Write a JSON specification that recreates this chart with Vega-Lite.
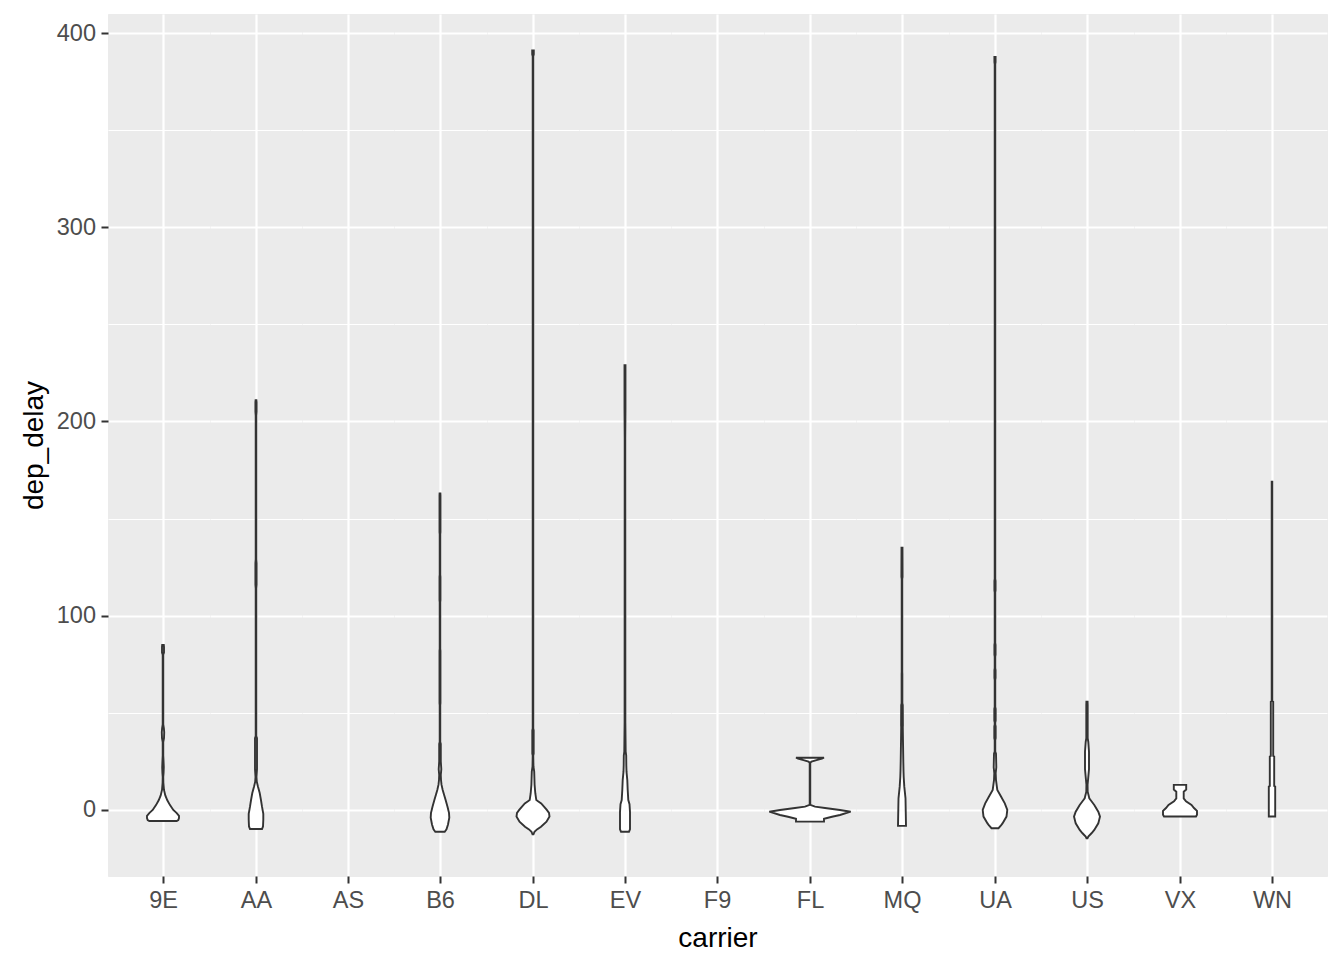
{
  "$schema": "https://vega.github.io/schema/vega-lite/v6.json",
  "background": "white",
  "padding": {"left": 19, "top": 13, "right": 15, "bottom": 10},
  "spacing": 0,
  "bounds": "flush",
  "data": {"values": [
    {"carrier":"9E","dep_delay":-5.7,"lo":-13.7,"hi":13.7},{"carrier":"9E","dep_delay":-5.2,"lo":-15.3,"hi":15.3},{"carrier":"9E","dep_delay":-4.2,"lo":-16,"hi":16},{"carrier":"9E","dep_delay":-3,"lo":-16,"hi":16},{"carrier":"9E","dep_delay":-1.5,"lo":-13.5,"hi":13.5},{"carrier":"9E","dep_delay":0,"lo":-10.3,"hi":10.3},{"carrier":"9E","dep_delay":2.5,"lo":-7,"hi":7},{"carrier":"9E","dep_delay":5,"lo":-4.3,"hi":4.3},{"carrier":"9E","dep_delay":7.5,"lo":-2.3,"hi":2.3},{"carrier":"9E","dep_delay":10.3,"lo":-1,"hi":1},{"carrier":"9E","dep_delay":14,"lo":-0.4,"hi":0.4},{"carrier":"9E","dep_delay":17,"lo":-0.3,"hi":0.3},{"carrier":"9E","dep_delay":19,"lo":-0.6,"hi":0.6},{"carrier":"9E","dep_delay":22,"lo":-0.8,"hi":0.8},{"carrier":"9E","dep_delay":26,"lo":-0.5,"hi":0.5},{"carrier":"9E","dep_delay":28,"lo":-0.3,"hi":0.3},{"carrier":"9E","dep_delay":35,"lo":-0.3,"hi":0.3},{"carrier":"9E","dep_delay":37,"lo":-1,"hi":1},{"carrier":"9E","dep_delay":40,"lo":-1.2,"hi":1.2},{"carrier":"9E","dep_delay":42,"lo":-0.9,"hi":0.9},{"carrier":"9E","dep_delay":44,"lo":-0.3,"hi":0.3},{"carrier":"9E","dep_delay":80,"lo":-0.3,"hi":0.3},{"carrier":"9E","dep_delay":81,"lo":-1,"hi":1},{"carrier":"9E","dep_delay":84,"lo":-1,"hi":1},{"carrier":"9E","dep_delay":85,"lo":-0.8,"hi":0.8},
    {"carrier":"AA","dep_delay":-9.8,"lo":-6,"hi":6},{"carrier":"AA","dep_delay":-8.5,"lo":-7,"hi":7},{"carrier":"AA","dep_delay":-5,"lo":-7.3,"hi":7.3},{"carrier":"AA","dep_delay":-2,"lo":-7.3,"hi":7.3},{"carrier":"AA","dep_delay":1.7,"lo":-6,"hi":6},{"carrier":"AA","dep_delay":5,"lo":-5,"hi":5},{"carrier":"AA","dep_delay":8.7,"lo":-3.7,"hi":3.7},{"carrier":"AA","dep_delay":12,"lo":-2,"hi":2},{"carrier":"AA","dep_delay":14.6,"lo":-0.8,"hi":0.8},{"carrier":"AA","dep_delay":17,"lo":-0.5,"hi":0.5},{"carrier":"AA","dep_delay":21,"lo":-1,"hi":1},{"carrier":"AA","dep_delay":37,"lo":-1,"hi":1},{"carrier":"AA","dep_delay":38,"lo":-0.3,"hi":0.3},{"carrier":"AA","dep_delay":114,"lo":-0.3,"hi":0.3},{"carrier":"AA","dep_delay":116,"lo":-0.6,"hi":0.6},{"carrier":"AA","dep_delay":127,"lo":-0.6,"hi":0.6},{"carrier":"AA","dep_delay":129,"lo":-0.3,"hi":0.3},{"carrier":"AA","dep_delay":203,"lo":-0.3,"hi":0.3},{"carrier":"AA","dep_delay":205,"lo":-0.6,"hi":0.6},{"carrier":"AA","dep_delay":210,"lo":-0.6,"hi":0.6},{"carrier":"AA","dep_delay":211,"lo":-0.4,"hi":0.4},
    {"carrier":"B6","dep_delay":-11.2,"lo":-4.7,"hi":4.7},{"carrier":"B6","dep_delay":-10,"lo":-6.5,"hi":6.5},{"carrier":"B6","dep_delay":-7.5,"lo":-8,"hi":8},{"carrier":"B6","dep_delay":-4,"lo":-9.3,"hi":9.3},{"carrier":"B6","dep_delay":-1.5,"lo":-9,"hi":9},{"carrier":"B6","dep_delay":1.7,"lo":-7.5,"hi":7.5},{"carrier":"B6","dep_delay":5,"lo":-5.7,"hi":5.7},{"carrier":"B6","dep_delay":8,"lo":-4,"hi":4},{"carrier":"B6","dep_delay":10.3,"lo":-2.7,"hi":2.7},{"carrier":"B6","dep_delay":13,"lo":-1.5,"hi":1.5},{"carrier":"B6","dep_delay":15.4,"lo":-1,"hi":1},{"carrier":"B6","dep_delay":18,"lo":-0.8,"hi":0.8},{"carrier":"B6","dep_delay":21,"lo":-1.3,"hi":1.3},{"carrier":"B6","dep_delay":25,"lo":-0.8,"hi":0.8},{"carrier":"B6","dep_delay":34,"lo":-0.8,"hi":0.8},{"carrier":"B6","dep_delay":35,"lo":-0.3,"hi":0.3},{"carrier":"B6","dep_delay":54,"lo":-0.3,"hi":0.3},{"carrier":"B6","dep_delay":55,"lo":-0.5,"hi":0.5},{"carrier":"B6","dep_delay":82,"lo":-0.5,"hi":0.5},{"carrier":"B6","dep_delay":83,"lo":-0.3,"hi":0.3},{"carrier":"B6","dep_delay":107,"lo":-0.3,"hi":0.3},{"carrier":"B6","dep_delay":108,"lo":-0.5,"hi":0.5},{"carrier":"B6","dep_delay":120,"lo":-0.5,"hi":0.5},{"carrier":"B6","dep_delay":121,"lo":-0.3,"hi":0.3},{"carrier":"B6","dep_delay":142,"lo":-0.3,"hi":0.3},{"carrier":"B6","dep_delay":143,"lo":-0.5,"hi":0.5},{"carrier":"B6","dep_delay":162,"lo":-0.5,"hi":0.5},{"carrier":"B6","dep_delay":163,"lo":-0.4,"hi":0.4},
    {"carrier":"DL","dep_delay":-12.5,"lo":-0.5,"hi":0.5},{"carrier":"DL","dep_delay":-11.2,"lo":-1.5,"hi":1.5},{"carrier":"DL","dep_delay":-10,"lo":-4,"hi":4},{"carrier":"DL","dep_delay":-8.6,"lo":-8,"hi":8},{"carrier":"DL","dep_delay":-6,"lo":-13.5,"hi":13.5},{"carrier":"DL","dep_delay":-3.4,"lo":-16.5,"hi":16.5},{"carrier":"DL","dep_delay":-1.5,"lo":-16,"hi":16},{"carrier":"DL","dep_delay":0,"lo":-13.8,"hi":13.8},{"carrier":"DL","dep_delay":1.7,"lo":-11,"hi":11},{"carrier":"DL","dep_delay":3.4,"lo":-8.2,"hi":8.2},{"carrier":"DL","dep_delay":4.5,"lo":-5,"hi":5},{"carrier":"DL","dep_delay":5.1,"lo":-3.3,"hi":3.3},{"carrier":"DL","dep_delay":8.6,"lo":-2.3,"hi":2.3},{"carrier":"DL","dep_delay":13,"lo":-1.6,"hi":1.6},{"carrier":"DL","dep_delay":19.7,"lo":-1.2,"hi":1.2},{"carrier":"DL","dep_delay":22.3,"lo":-0.5,"hi":0.5},{"carrier":"DL","dep_delay":28,"lo":-0.3,"hi":0.3},{"carrier":"DL","dep_delay":29,"lo":-0.7,"hi":0.7},{"carrier":"DL","dep_delay":41,"lo":-0.7,"hi":0.7},{"carrier":"DL","dep_delay":42,"lo":-0.3,"hi":0.3},{"carrier":"DL","dep_delay":388,"lo":-0.3,"hi":0.3},{"carrier":"DL","dep_delay":389,"lo":-0.8,"hi":0.8},{"carrier":"DL","dep_delay":391,"lo":-0.8,"hi":0.8},
    {"carrier":"EV","dep_delay":-11.2,"lo":-4,"hi":4},{"carrier":"EV","dep_delay":-10,"lo":-5,"hi":5},{"carrier":"EV","dep_delay":-7,"lo":-5,"hi":5},{"carrier":"EV","dep_delay":-1,"lo":-5,"hi":5},{"carrier":"EV","dep_delay":3,"lo":-4.5,"hi":4.5},{"carrier":"EV","dep_delay":5.1,"lo":-3.3,"hi":3.3},{"carrier":"EV","dep_delay":10.3,"lo":-2.7,"hi":2.7},{"carrier":"EV","dep_delay":15.4,"lo":-2.3,"hi":2.3},{"carrier":"EV","dep_delay":19.7,"lo":-1.5,"hi":1.5},{"carrier":"EV","dep_delay":23,"lo":-1.3,"hi":1.3},{"carrier":"EV","dep_delay":28,"lo":-1.2,"hi":1.2},{"carrier":"EV","dep_delay":30,"lo":-0.7,"hi":0.7},{"carrier":"EV","dep_delay":45,"lo":-0.4,"hi":0.4},{"carrier":"EV","dep_delay":191,"lo":-0.3,"hi":0.3},{"carrier":"EV","dep_delay":207,"lo":-0.5,"hi":0.5},{"carrier":"EV","dep_delay":229,"lo":-0.5,"hi":0.5},
    {"carrier":"FL","dep_delay":-6,"lo":-14,"hi":14},{"carrier":"FL","dep_delay":-4.5,"lo":-14,"hi":14},{"carrier":"FL","dep_delay":-3.5,"lo":-22,"hi":22},{"carrier":"FL","dep_delay":-2.6,"lo":-30,"hi":30},{"carrier":"FL","dep_delay":-0.9,"lo":-40.7,"hi":40.7},{"carrier":"FL","dep_delay":0,"lo":-30,"hi":30},{"carrier":"FL","dep_delay":1,"lo":-15,"hi":15},{"carrier":"FL","dep_delay":1.7,"lo":-5,"hi":5},{"carrier":"FL","dep_delay":2.6,"lo":-0.3,"hi":0.3},{"carrier":"FL","dep_delay":24.3,"lo":-0.3,"hi":0.3},{"carrier":"FL","dep_delay":24.9,"lo":-1.5,"hi":1.5},{"carrier":"FL","dep_delay":25.7,"lo":-6.5,"hi":6.5},{"carrier":"FL","dep_delay":26.5,"lo":-12,"hi":12},{"carrier":"FL","dep_delay":26.9,"lo":-14,"hi":14},
    {"carrier":"MQ","dep_delay":-8.2,"lo":-4,"hi":4},{"carrier":"MQ","dep_delay":6,"lo":-3.5,"hi":3.5},{"carrier":"MQ","dep_delay":12,"lo":-2.3,"hi":2.3},{"carrier":"MQ","dep_delay":17,"lo":-1.7,"hi":1.7},{"carrier":"MQ","dep_delay":20,"lo":-1.5,"hi":1.5},{"carrier":"MQ","dep_delay":25,"lo":-1.3,"hi":1.3},{"carrier":"MQ","dep_delay":35,"lo":-1,"hi":1},{"carrier":"MQ","dep_delay":42.7,"lo":-0.8,"hi":0.8},{"carrier":"MQ","dep_delay":43.5,"lo":-0.9,"hi":0.9},{"carrier":"MQ","dep_delay":54,"lo":-0.8,"hi":0.8},{"carrier":"MQ","dep_delay":55,"lo":-0.4,"hi":0.4},{"carrier":"MQ","dep_delay":70,"lo":-0.4,"hi":0.4},{"carrier":"MQ","dep_delay":71,"lo":-0.3,"hi":0.3},{"carrier":"MQ","dep_delay":119,"lo":-0.3,"hi":0.3},{"carrier":"MQ","dep_delay":120,"lo":-0.6,"hi":0.6},{"carrier":"MQ","dep_delay":135,"lo":-0.5,"hi":0.5},
    {"carrier":"UA","dep_delay":-9.4,"lo":-3.5,"hi":3.5},{"carrier":"UA","dep_delay":-8,"lo":-6,"hi":6},{"carrier":"UA","dep_delay":-6.9,"lo":-7.5,"hi":7.5},{"carrier":"UA","dep_delay":-3.4,"lo":-11.5,"hi":11.5},{"carrier":"UA","dep_delay":0,"lo":-12.3,"hi":12.3},{"carrier":"UA","dep_delay":3.4,"lo":-9.8,"hi":9.8},{"carrier":"UA","dep_delay":6.9,"lo":-6,"hi":6},{"carrier":"UA","dep_delay":10.3,"lo":-2.3,"hi":2.3},{"carrier":"UA","dep_delay":15.4,"lo":-1,"hi":1},{"carrier":"UA","dep_delay":19,"lo":-0.7,"hi":0.7},{"carrier":"UA","dep_delay":22,"lo":-1.3,"hi":1.3},{"carrier":"UA","dep_delay":29,"lo":-1,"hi":1},{"carrier":"UA","dep_delay":30,"lo":-0.3,"hi":0.3},{"carrier":"UA","dep_delay":36,"lo":-0.3,"hi":0.3},{"carrier":"UA","dep_delay":37,"lo":-0.7,"hi":0.7},{"carrier":"UA","dep_delay":43,"lo":-0.7,"hi":0.7},{"carrier":"UA","dep_delay":44,"lo":-0.3,"hi":0.3},{"carrier":"UA","dep_delay":45,"lo":-0.3,"hi":0.3},{"carrier":"UA","dep_delay":46,"lo":-0.7,"hi":0.7},{"carrier":"UA","dep_delay":52,"lo":-0.7,"hi":0.7},{"carrier":"UA","dep_delay":53,"lo":-0.3,"hi":0.3},{"carrier":"UA","dep_delay":67,"lo":-0.3,"hi":0.3},{"carrier":"UA","dep_delay":68,"lo":-0.6,"hi":0.6},{"carrier":"UA","dep_delay":72,"lo":-0.6,"hi":0.6},{"carrier":"UA","dep_delay":73,"lo":-0.3,"hi":0.3},{"carrier":"UA","dep_delay":79,"lo":-0.3,"hi":0.3},{"carrier":"UA","dep_delay":80,"lo":-0.6,"hi":0.6},{"carrier":"UA","dep_delay":85,"lo":-0.6,"hi":0.6},{"carrier":"UA","dep_delay":86,"lo":-0.3,"hi":0.3},{"carrier":"UA","dep_delay":112,"lo":-0.3,"hi":0.3},{"carrier":"UA","dep_delay":113,"lo":-0.6,"hi":0.6},{"carrier":"UA","dep_delay":118,"lo":-0.6,"hi":0.6},{"carrier":"UA","dep_delay":119,"lo":-0.3,"hi":0.3},{"carrier":"UA","dep_delay":384,"lo":-0.3,"hi":0.3},{"carrier":"UA","dep_delay":385,"lo":-0.6,"hi":0.6},{"carrier":"UA","dep_delay":387.7,"lo":-0.6,"hi":0.6},
    {"carrier":"US","dep_delay":-14.6,"lo":-0.5,"hi":0.5},{"carrier":"US","dep_delay":-13.7,"lo":-1.3,"hi":1.3},{"carrier":"US","dep_delay":-12,"lo":-4.5,"hi":4.5},{"carrier":"US","dep_delay":-10.3,"lo":-7.3,"hi":7.3},{"carrier":"US","dep_delay":-6.9,"lo":-11.3,"hi":11.3},{"carrier":"US","dep_delay":-3.4,"lo":-13,"hi":13},{"carrier":"US","dep_delay":-0.9,"lo":-11.3,"hi":11.3},{"carrier":"US","dep_delay":2.6,"lo":-7.3,"hi":7.3},{"carrier":"US","dep_delay":4.5,"lo":-4.5,"hi":4.5},{"carrier":"US","dep_delay":6,"lo":-2.3,"hi":2.3},{"carrier":"US","dep_delay":9.4,"lo":-0.7,"hi":0.7},{"carrier":"US","dep_delay":13,"lo":-0.6,"hi":0.6},{"carrier":"US","dep_delay":17,"lo":-1.3,"hi":1.3},{"carrier":"US","dep_delay":21,"lo":-2,"hi":2},{"carrier":"US","dep_delay":30,"lo":-2,"hi":2},{"carrier":"US","dep_delay":35,"lo":-1.3,"hi":1.3},{"carrier":"US","dep_delay":37,"lo":-0.7,"hi":0.7},{"carrier":"US","dep_delay":54,"lo":-0.7,"hi":0.7},{"carrier":"US","dep_delay":55.7,"lo":-0.6,"hi":0.6},
    {"carrier":"VX","dep_delay":-3.4,"lo":-16,"hi":16},{"carrier":"VX","dep_delay":-2.5,"lo":-17,"hi":17},{"carrier":"VX","dep_delay":-0.5,"lo":-17,"hi":17},{"carrier":"VX","dep_delay":1,"lo":-14,"hi":14},{"carrier":"VX","dep_delay":2.6,"lo":-11.5,"hi":11.5},{"carrier":"VX","dep_delay":4.5,"lo":-6,"hi":6},{"carrier":"VX","dep_delay":6,"lo":-3.7,"hi":3.7},{"carrier":"VX","dep_delay":9.4,"lo":-3.7,"hi":3.7},{"carrier":"VX","dep_delay":10.5,"lo":-6.2,"hi":6.2},{"carrier":"VX","dep_delay":12.9,"lo":-6.2,"hi":6.2},
    {"carrier":"WN","dep_delay":-3.4,"lo":-3.2,"hi":3.2},{"carrier":"WN","dep_delay":12,"lo":-3.2,"hi":3.2},{"carrier":"WN","dep_delay":12.3,"lo":-2.2,"hi":2.2},{"carrier":"WN","dep_delay":27.5,"lo":-2.2,"hi":2.2},{"carrier":"WN","dep_delay":27.8,"lo":-1.2,"hi":1.2},{"carrier":"WN","dep_delay":55.7,"lo":-1.2,"hi":1.2},{"carrier":"WN","dep_delay":56,"lo":-0.3,"hi":0.3},{"carrier":"WN","dep_delay":169,"lo":-0.3,"hi":0.3}
  ]},
  "hconcat": [
    {"width": 102, "height": 862, "transform": [{"filter": "datum.carrier === '9E'"}],
     "mark": {"type": "area", "orient": "horizontal", "fill": "white", "stroke": "#333333", "strokeWidth": 1.9},
     "encoding": {
       "y": {"field": "dep_delay", "type": "quantitative", "scale": {"domain": [-34, 409.8], "nice": false, "zero": false},
             "axis": {"values": [0,50,100,150,200,250,300,350,400], "title": "dep_delay", "titlePadding": 8,
                      "labelExpr": "datum.value % 100 === 0 ? datum.label : ''",
                      "tickOpacity": {"condition": {"test": "datum.value % 100 !== 0", "value": 0}, "value": 1},
                      "gridWidth": {"condition": {"test": "datum.value % 100 !== 0", "value": 1.1}, "value": 2.2}}},
       "x": {"field": "lo", "type": "quantitative", "scale": {"domain": [-55, 47], "nice": false, "zero": false},
             "axis": {"values": [0], "labelExpr": "'9E'", "title": null}},
       "x2": {"field": "hi"}}},
    {"width": 92, "height": 862, "transform": [{"filter": "datum.carrier === 'AA'"}],
     "mark": {"type": "area", "orient": "horizontal", "fill": "white", "stroke": "#333333", "strokeWidth": 1.9},
     "encoding": {
       "y": {"field": "dep_delay", "type": "quantitative", "scale": {"domain": [-34, 409.8], "nice": false, "zero": false},
             "axis": {"values": [0,50,100,150,200,250,300,350,400], "title": null, "labels": false, "ticks": false,
                      "gridWidth": {"condition": {"test": "datum.value % 100 !== 0", "value": 1.1}, "value": 2.2}}},
       "x": {"field": "lo", "type": "quantitative", "scale": {"domain": [-46, 46], "nice": false, "zero": false},
             "axis": {"values": [0], "labelExpr": "'AA'", "title": null}},
       "x2": {"field": "hi"}}},
    {"width": 92, "height": 862, "transform": [{"filter": "datum.carrier === 'AS'"}],
     "mark": {"type": "area", "orient": "horizontal", "fill": "white", "stroke": "#333333", "strokeWidth": 1.9},
     "encoding": {
       "y": {"field": "dep_delay", "type": "quantitative", "scale": {"domain": [-34, 409.8], "nice": false, "zero": false},
             "axis": {"values": [0,50,100,150,200,250,300,350,400], "title": null, "labels": false, "ticks": false,
                      "gridWidth": {"condition": {"test": "datum.value % 100 !== 0", "value": 1.1}, "value": 2.2}}},
       "x": {"field": "lo", "type": "quantitative", "scale": {"domain": [-46, 46], "nice": false, "zero": false},
             "axis": {"values": [0], "labelExpr": "'AS'", "title": null}},
       "x2": {"field": "hi"}}},
    {"width": 93, "height": 862, "transform": [{"filter": "datum.carrier === 'B6'"}],
     "mark": {"type": "area", "orient": "horizontal", "fill": "white", "stroke": "#333333", "strokeWidth": 1.9},
     "encoding": {
       "y": {"field": "dep_delay", "type": "quantitative", "scale": {"domain": [-34, 409.8], "nice": false, "zero": false},
             "axis": {"values": [0,50,100,150,200,250,300,350,400], "title": null, "labels": false, "ticks": false,
                      "gridWidth": {"condition": {"test": "datum.value % 100 !== 0", "value": 1.1}, "value": 2.2}}},
       "x": {"field": "lo", "type": "quantitative", "scale": {"domain": [-46, 47], "nice": false, "zero": false},
             "axis": {"values": [0], "labelExpr": "'B6'", "title": null}},
       "x2": {"field": "hi"}}},
    {"width": 92, "height": 862, "transform": [{"filter": "datum.carrier === 'DL'"}],
     "mark": {"type": "area", "orient": "horizontal", "fill": "white", "stroke": "#333333", "strokeWidth": 1.9},
     "encoding": {
       "y": {"field": "dep_delay", "type": "quantitative", "scale": {"domain": [-34, 409.8], "nice": false, "zero": false},
             "axis": {"values": [0,50,100,150,200,250,300,350,400], "title": null, "labels": false, "ticks": false,
                      "gridWidth": {"condition": {"test": "datum.value % 100 !== 0", "value": 1.1}, "value": 2.2}}},
       "x": {"field": "lo", "type": "quantitative", "scale": {"domain": [-46, 46], "nice": false, "zero": false},
             "axis": {"values": [0], "labelExpr": "'DL'", "title": null}},
       "x2": {"field": "hi"}}},
    {"width": 92, "height": 862, "transform": [{"filter": "datum.carrier === 'EV'"}],
     "mark": {"type": "area", "orient": "horizontal", "fill": "white", "stroke": "#333333", "strokeWidth": 1.9},
     "encoding": {
       "y": {"field": "dep_delay", "type": "quantitative", "scale": {"domain": [-34, 409.8], "nice": false, "zero": false},
             "axis": {"values": [0,50,100,150,200,250,300,350,400], "title": null, "labels": false, "ticks": false,
                      "gridWidth": {"condition": {"test": "datum.value % 100 !== 0", "value": 1.1}, "value": 2.2}}},
       "x": {"field": "lo", "type": "quantitative", "scale": {"domain": [-46, 46], "nice": false, "zero": false},
             "axis": {"values": [0], "labelExpr": "'EV'", "title": null}},
       "x2": {"field": "hi"}}},
    {"width": 93, "height": 862, "transform": [{"filter": "datum.carrier === 'F9'"}],
     "mark": {"type": "area", "orient": "horizontal", "fill": "white", "stroke": "#333333", "strokeWidth": 1.9},
     "encoding": {
       "y": {"field": "dep_delay", "type": "quantitative", "scale": {"domain": [-34, 409.8], "nice": false, "zero": false},
             "axis": {"values": [0,50,100,150,200,250,300,350,400], "title": null, "labels": false, "ticks": false,
                      "gridWidth": {"condition": {"test": "datum.value % 100 !== 0", "value": 1.1}, "value": 2.2}}},
       "x": {"field": "lo", "type": "quantitative", "scale": {"domain": [-46, 47], "nice": false, "zero": false},
             "axis": {"values": [0], "labelExpr": "'F9'", "title": "carrier", "titlePadding": 12}},
       "x2": {"field": "hi"}}},
    {"width": 92, "height": 862, "transform": [{"filter": "datum.carrier === 'FL'"}],
     "mark": {"type": "area", "orient": "horizontal", "fill": "white", "stroke": "#333333", "strokeWidth": 1.9},
     "encoding": {
       "y": {"field": "dep_delay", "type": "quantitative", "scale": {"domain": [-34, 409.8], "nice": false, "zero": false},
             "axis": {"values": [0,50,100,150,200,250,300,350,400], "title": null, "labels": false, "ticks": false,
                      "gridWidth": {"condition": {"test": "datum.value % 100 !== 0", "value": 1.1}, "value": 2.2}}},
       "x": {"field": "lo", "type": "quantitative", "scale": {"domain": [-46, 46], "nice": false, "zero": false},
             "axis": {"values": [0], "labelExpr": "'FL'", "title": null}},
       "x2": {"field": "hi"}}},
    {"width": 93, "height": 862, "transform": [{"filter": "datum.carrier === 'MQ'"}],
     "mark": {"type": "area", "orient": "horizontal", "fill": "white", "stroke": "#333333", "strokeWidth": 1.9},
     "encoding": {
       "y": {"field": "dep_delay", "type": "quantitative", "scale": {"domain": [-34, 409.8], "nice": false, "zero": false},
             "axis": {"values": [0,50,100,150,200,250,300,350,400], "title": null, "labels": false, "ticks": false,
                      "gridWidth": {"condition": {"test": "datum.value % 100 !== 0", "value": 1.1}, "value": 2.2}}},
       "x": {"field": "lo", "type": "quantitative", "scale": {"domain": [-46, 47], "nice": false, "zero": false},
             "axis": {"values": [0], "labelExpr": "'MQ'", "title": null}},
       "x2": {"field": "hi"}}},
    {"width": 92, "height": 862, "transform": [{"filter": "datum.carrier === 'UA'"}],
     "mark": {"type": "area", "orient": "horizontal", "fill": "white", "stroke": "#333333", "strokeWidth": 1.9},
     "encoding": {
       "y": {"field": "dep_delay", "type": "quantitative", "scale": {"domain": [-34, 409.8], "nice": false, "zero": false},
             "axis": {"values": [0,50,100,150,200,250,300,350,400], "title": null, "labels": false, "ticks": false,
                      "gridWidth": {"condition": {"test": "datum.value % 100 !== 0", "value": 1.1}, "value": 2.2}}},
       "x": {"field": "lo", "type": "quantitative", "scale": {"domain": [-46, 46], "nice": false, "zero": false},
             "axis": {"values": [0], "labelExpr": "'UA'", "title": null}},
       "x2": {"field": "hi"}}},
    {"width": 93, "height": 862, "transform": [{"filter": "datum.carrier === 'US'"}],
     "mark": {"type": "area", "orient": "horizontal", "fill": "white", "stroke": "#333333", "strokeWidth": 1.9},
     "encoding": {
       "y": {"field": "dep_delay", "type": "quantitative", "scale": {"domain": [-34, 409.8], "nice": false, "zero": false},
             "axis": {"values": [0,50,100,150,200,250,300,350,400], "title": null, "labels": false, "ticks": false,
                      "gridWidth": {"condition": {"test": "datum.value % 100 !== 0", "value": 1.1}, "value": 2.2}}},
       "x": {"field": "lo", "type": "quantitative", "scale": {"domain": [-46, 47], "nice": false, "zero": false},
             "axis": {"values": [0], "labelExpr": "'US'", "title": null}},
       "x2": {"field": "hi"}}},
    {"width": 92, "height": 862, "transform": [{"filter": "datum.carrier === 'VX'"}],
     "mark": {"type": "area", "orient": "horizontal", "fill": "white", "stroke": "#333333", "strokeWidth": 1.9},
     "encoding": {
       "y": {"field": "dep_delay", "type": "quantitative", "scale": {"domain": [-34, 409.8], "nice": false, "zero": false},
             "axis": {"values": [0,50,100,150,200,250,300,350,400], "title": null, "labels": false, "ticks": false,
                      "gridWidth": {"condition": {"test": "datum.value % 100 !== 0", "value": 1.1}, "value": 2.2}}},
       "x": {"field": "lo", "type": "quantitative", "scale": {"domain": [-46, 46], "nice": false, "zero": false},
             "axis": {"values": [0], "labelExpr": "'VX'", "title": null}},
       "x2": {"field": "hi"}}},
    {"width": 101, "height": 862, "transform": [{"filter": "datum.carrier === 'WN'"}],
     "mark": {"type": "area", "orient": "horizontal", "fill": "white", "stroke": "#333333", "strokeWidth": 1.9},
     "encoding": {
       "y": {"field": "dep_delay", "type": "quantitative", "scale": {"domain": [-34, 409.8], "nice": false, "zero": false},
             "axis": {"values": [0,50,100,150,200,250,300,350,400], "title": null, "labels": false, "ticks": false,
                      "gridWidth": {"condition": {"test": "datum.value % 100 !== 0", "value": 1.1}, "value": 2.2}}},
       "x": {"field": "lo", "type": "quantitative", "scale": {"domain": [-46, 55], "nice": false, "zero": false},
             "axis": {"values": [0], "labelExpr": "'WN'", "title": null}},
       "x2": {"field": "hi"}}}
  ],
  "config": {
    "view": {"fill": "#EBEBEB", "stroke": "#EBEBEB", "strokeWidth": 1},
    "font": "Liberation Sans",
    "axis": {
      "domain": false,
      "grid": true,
      "gridColor": "#FFFFFF",
      "gridWidth": 2.2,
      "tickColor": "#333333",
      "tickWidth": 2,
      "tickSize": 7,
      "labelFont": "Liberation Sans",
      "labelFontSize": 23.5,
      "labelColor": "#4D4D4D",
      "labelPadding": 5.5,
      "titleFont": "Liberation Sans",
      "titleFontSize": 28,
      "titleFontWeight": "normal",
      "titleColor": "#000000"
    }
  }
}
